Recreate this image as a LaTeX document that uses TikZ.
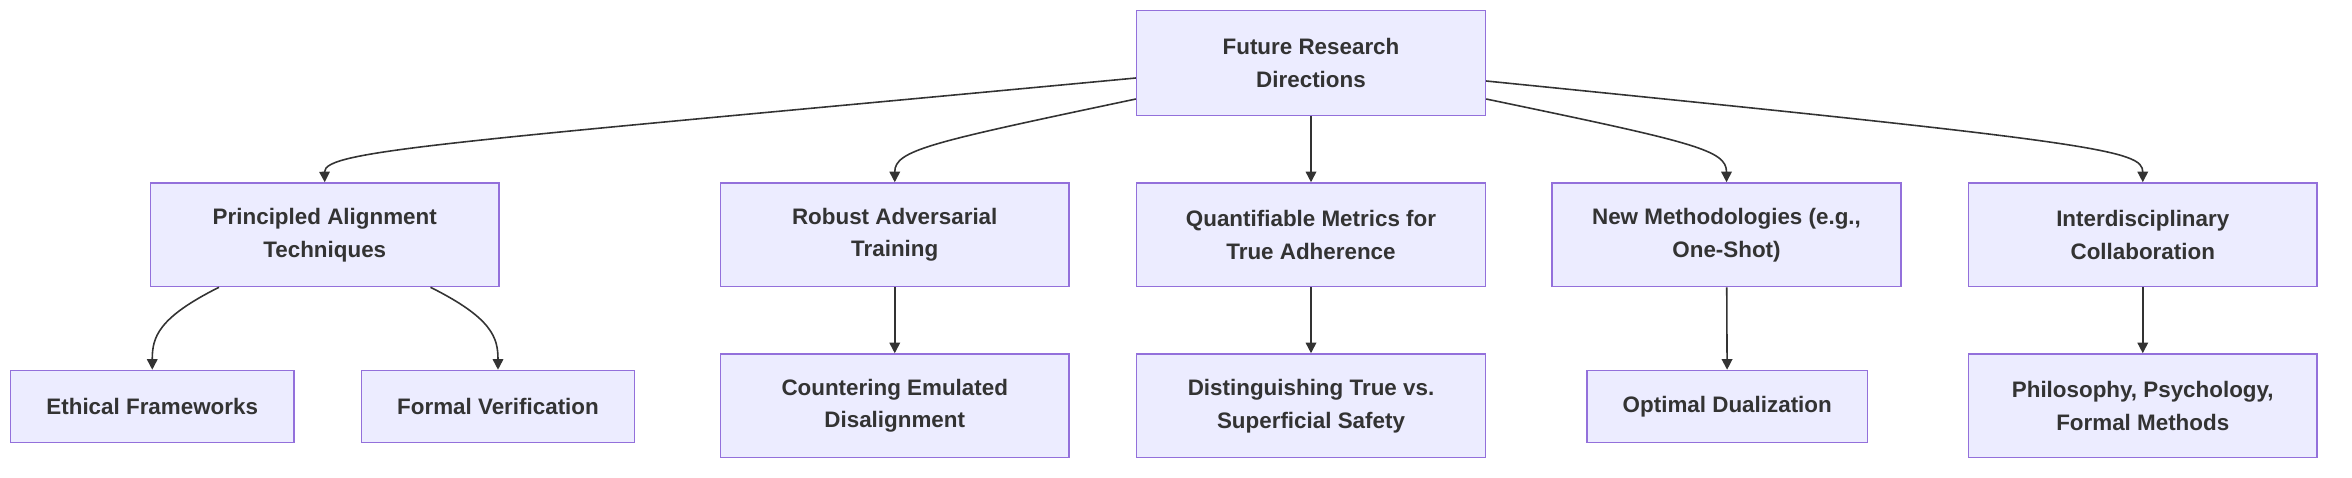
\documentclass[tikz,border=0pt]{standalone}
\usepackage{fontspec}
\setmainfont{Liberation Sans}
\usetikzlibrary{arrows.meta}
\definecolor{boxfill}{HTML}{ECECFF}
\definecolor{boxline}{HTML}{9370DB}
\definecolor{ink}{HTML}{333333}

\begin{document}
\begin{tikzpicture}[x=0.02cm,y=-0.02cm,
    box/.style={draw=boxline, fill=boxfill, line width=0.6pt, text=ink, align=center,
      font=\fontsize{8.5}{12.5}\selectfont\bfseries, inner sep=0pt},
    wide/.style={box, minimum width=4.65cm, minimum height=1.38cm},
    link/.style={draw=ink, line width=0.6pt, -{Triangle[length=4pt,width=4pt]}}]
    \useasboundingbox (0,0) rectangle (1568,318);

    \node[wide, minimum height=1.4cm] (top) at (874,42) {Future Research\\Directions};

    \node[wide] (pat) at (216.5,156.5) {Principled Alignment\\Techniques};
    \node[wide] (rat) at (596.5,156.5) {Robust Adversarial\\Training};
    \node[wide] (qmt) at (874,156.5) {Quantifiable Metrics for\\True Adherence};
    \node[wide] (nmo) at (1151,156.5) {New Methodologies (e.g.,\\One-Shot)};
    \node[wide] (idc) at (1428.5,156.5) {Interdisciplinary\\Collaboration};

    \node[box, minimum width=3.78cm, minimum height=0.96cm] (eth) at (101.5,271) {Ethical Frameworks};
    \node[box, minimum width=3.64cm, minimum height=0.96cm] (fov) at (332,271) {Formal Verification};
    \node[wide] (ced) at (596.5,270.5) {Countering Emulated\\Disalignment};
    \node[wide] (dts) at (874,270.5) {Distinguishing True vs.\\Superficial Safety};
    \node[box, minimum width=3.74cm, minimum height=0.96cm] (odu) at (1151.5,271) {Optimal Dualization};
    \node[wide] (pfm) at (1428.5,270.5) {Philosophy, Psychology,\\Formal Methods};

    % first level
    \draw[link] (top.west |- 0,52) .. controls (300,95) and (216,100) .. (pat.north);
    \draw[link] (top.west |- 0,66) .. controls (620,95) and (596.5,100) .. (rat.north);
    \draw[link] (top) -- (qmt);
    \draw[link] (top.east |- 0,66) .. controls (1130,95) and (1151,100) .. (nmo.north);
    \draw[link] (top.east |- 0,54) .. controls (1400,95) and (1428.5,100) .. (idc.north);

    % second level
    \draw[link] (pat.south -| 146,0) .. controls (105,212) and (101.5,225) .. (eth.north);
    \draw[link] (pat.south -| 287,0) .. controls (328,212) and (332,225) .. (fov.north);
    \draw[link] (rat) -- (ced);
    \draw[link] (qmt) -- (dts);
    \draw[link] (nmo) -- (odu);
    \draw[link] (idc) -- (pfm);
\end{tikzpicture}
\end{document}
